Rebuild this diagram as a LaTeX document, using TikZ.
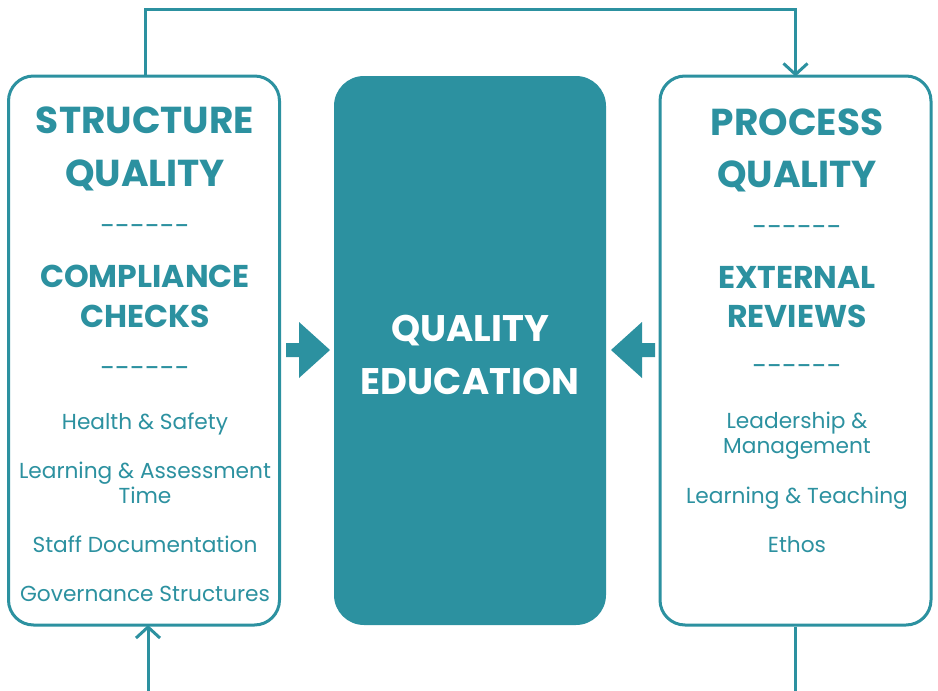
\documentclass[tikz,border=0pt]{standalone}
\usepackage{fontspec}
\setmainfont{Poppins}
\usetikzlibrary{arrows.meta}
\definecolor{teal}{RGB}{44,145,160}
\begin{document}
\begin{tikzpicture}[x=1pt,y=-1pt,
  panel/.style={draw=teal,line width=3pt,rounded corners=25pt,fill=white},
  core/.style={fill=teal,rounded corners=30pt},
  conn/.style={draw=teal,line width=3pt},
  tip/.style={-{Straight Barb[length=11pt,width=24pt]}},
  head/.style={text=teal,font=\fontsize{37.5}{37.5}\selectfont\bfseries,anchor=base,inner sep=0pt},
  sub/.style={text=teal,font=\fontsize{31.5}{31.5}\selectfont\bfseries,anchor=base,inner sep=0pt},
  item/.style={text=teal,font=\fontsize{21.7}{21.7}\selectfont,anchor=base,inner sep=0pt},
  sepline/.style={text=teal,font=\fontsize{27}{27}\selectfont,anchor=center,inner sep=0pt},
  mid/.style={text=white,font=\fontsize{37}{37}\selectfont\bfseries,anchor=base,inner sep=0pt}]
\useasboundingbox (0,0) rectangle (938,691);
% boxes
\node[panel,minimum width=271pt,minimum height=549pt] (L) at (144,350.5) {};
\node[core,minimum width=272pt,minimum height=549pt] (M) at (470,350.5) {};
\node[panel,minimum width=271pt,minimum height=549pt] (R) at (795.5,350.5) {};
% connectors
\coordinate (top) at (0,9);
\coordinate (bot) at (0,692);
\draw[conn,tip] ([xshift=1pt]L.north) -- ([xshift=1pt]L.north |- top) -| ([yshift=-2pt]R.north);
\draw[conn,tip] (R.south) -- (R.south |- bot) -| ([xshift=4pt,yshift=1.5pt]L.south);
% block arrows
\fill[teal] (286,343) -- (299,343) -- (299,322) -- (330,350) -- (299,378) -- (299,357) -- (286,357) -- cycle;
\fill[teal] (655,343) -- (642,343) -- (642,322) -- (611,350) -- (642,378) -- (642,357) -- (655,357) -- cycle;
% left texts
\node[head] (l1) at (145,133) {STRUCTURE};
\node[head] (l2) at (145,186) {QUALITY};
\node[sepline] (l3) at (145,230) {-{}-{}-{}-{}-{}-};
\node[sub] (l4) at (145,287) {COMPLIANCE};
\node[sub] (l5) at (145,327) {CHECKS};
\node[sepline] (l6) at (145,372) {-{}-{}-{}-{}-{}-};
\node[item] (l7) at (145,429) {Health \& Safety};
\node[item] (l8) at (145,478) {Learning \& Assessment};
\node[item] (l9) at (145,503) {Time};
\node[item] (l10) at (145,552) {Staff Documentation};
\node[item] (l11) at (145,601) {Governance Structures};
% middle
\node[mid] (m1) at (470,341) {QUALITY};
\node[mid] (m2) at (470,394) {EDUCATION};
% right texts
\node[head] (r1) at (797,135) {PROCESS};
\node[head] (r2) at (797,187) {QUALITY};
\node[sepline] (r3) at (797,231) {-{}-{}-{}-{}-{}-};
\node[sub] (r4) at (797,288) {EXTERNAL};
\node[sub] (r5) at (797,327) {REVIEWS};
\node[sepline] (r6) at (797,370) {-{}-{}-{}-{}-{}-};
\node[item] (r7) at (797,428) {Leadership \&};
\node[item] (r8) at (797,453) {Management};
\node[item] (r9) at (797,503) {Learning \& Teaching};
\node[item] (r10) at (797,552) {Ethos};
\end{tikzpicture}
\end{document}
